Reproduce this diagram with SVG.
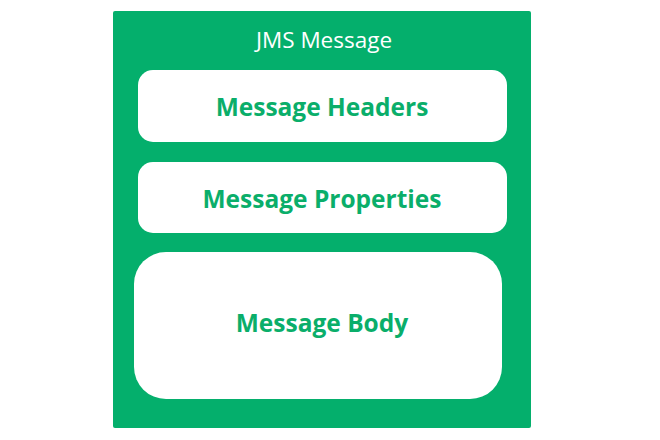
<svg xmlns="http://www.w3.org/2000/svg" width="660" height="440" viewBox="0 0 660 440">
  <style>
    .frame { fill: #04AF6C; }
    .part { fill: #FFFFFF; }
    .title { font-family: "Open Sans", "Noto Sans", sans-serif; font-size: 22.5px; fill: #FFFFFF; text-anchor: middle; }
    .label { font-family: "Open Sans", "Noto Sans", sans-serif; font-size: 24.5px; font-weight: bold; fill: #0AAE6A; text-anchor: middle; }
  </style>
  <rect width="660" height="440" fill="#FFFFFF"/>
  <g id="jms-message">
    <rect class="frame" x="113" y="11" width="418" height="417" rx="2"/>
    <text class="title" x="324" y="48">JMS Message</text>
  </g>
  <g id="message-headers">
    <rect class="part" x="138" y="70" width="369" height="72" rx="15"/>
    <text class="label" x="322" y="116">Message Headers</text>
  </g>
  <g id="message-properties">
    <rect class="part" x="138" y="162" width="369" height="71" rx="15"/>
    <text class="label" x="322" y="208">Message Properties</text>
  </g>
  <g id="message-body">
    <rect class="part" x="134" y="252" width="368" height="147" rx="32"/>
    <text class="label" x="322" y="332">Message Body</text>
  </g>
  <g id="connectors"/>
</svg>
